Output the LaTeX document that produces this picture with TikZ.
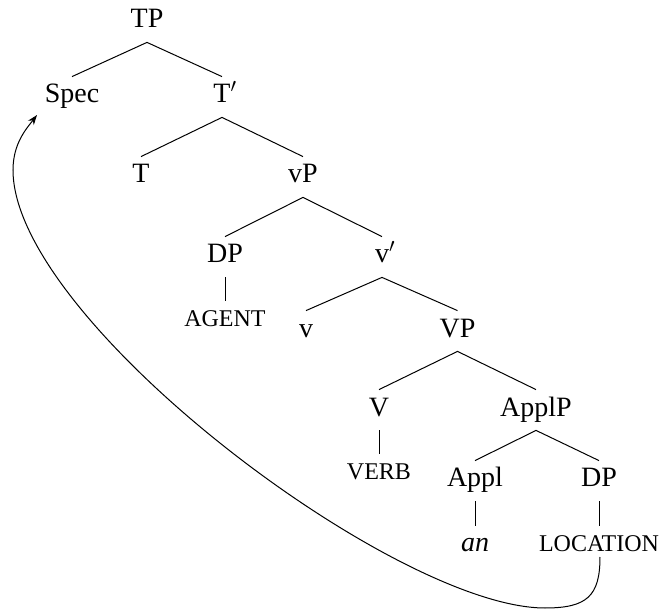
\documentclass[tikz,border=0pt]{standalone}
\usepackage{fontspec}
\setmainfont{Liberation Serif}
\usetikzlibrary{calc,arrows.meta}
\begin{document}
\begin{tikzpicture}[x=0.5pt,y=-0.5pt,
  lab/.style={anchor=base,inner sep=0pt,text height=13pt,text depth=7pt,font=\fontsize{14}{16}\selectfont},
  sclab/.style={lab,font=\fontsize{12}{14}\selectfont},
  edge/.style={line width=0.5pt},
  move/.style={line width=0.5pt,-{Stealth[length=5pt,width=3.6pt]}}]
\useasboundingbox (0,0) rectangle (660,610);
% row 1
\node[lab] (TP) at (147,28) {TP};
% row 2
\node[lab] (Spec) at (72,103) {Spec};
\node[lab] (Tbar) at (222,103) {T\rlap{$'$}};
% row 3
\node[lab] (T) at (141,183) {T};
\node[lab] (vP) at (303,183) {vP};
% row 4
\node[lab] (DPa) at (225,263) {DP};
\node[lab] (vbar) at (382,263) {v\rlap{$'$}};
\node[sclab] (agent) at (225,327) {AGENT};
% row 5
\node[lab] (v) at (306,337) {v};
\node[lab] (VP) at (457.5,337) {VP};
% row 6
\node[lab] (V) at (379,416) {V};
\node[lab] (ApplP) at (536,416) {ApplP};
\node[sclab] (verb) at (379,480) {VERB};
% row 7
\node[lab] (Appl) at (475,487) {Appl};
\node[lab] (DPb) at (599,487) {DP};
\node[lab] (an) at (475,552) {\itshape an};
\node[sclab] (loc) at (599,552) {LOCATION};
% edges
\draw[edge] (Spec.north) -- (TP.south) -- (Tbar.north);
\draw[edge] (T.north) -- (Tbar.south) -- (vP.north);
\draw[edge] (DPa.north) -- (vP.south) -- (vbar.north);
\draw[edge] (DPa.south) -- (agent.north);
\draw[edge] (v.north) -- (vbar.south) -- (VP.north);
\draw[edge] (V.north) -- (VP.south) -- (ApplP.north);
\draw[edge] (V.south) -- (verb.north);
\draw[edge] (Appl.north) -- (ApplP.south) -- (DPb.north);
\draw[edge] (Appl.south) -- (an.north);
\draw[edge] (DPb.south) -- (loc.north);
% movement arrow
\coordinate (mvstart) at ($(loc.base)+(1,5)$);
\coordinate (mvend) at ($(Spec.base)+(-35,12)$);
\draw[move] (mvstart) .. controls (600,596) and (587,608) .. (545,608)
  .. controls (395,608) and (13,320) .. (13,170)
  .. controls (13,143) and (27,128) .. (mvend);
\end{tikzpicture}
\end{document}
